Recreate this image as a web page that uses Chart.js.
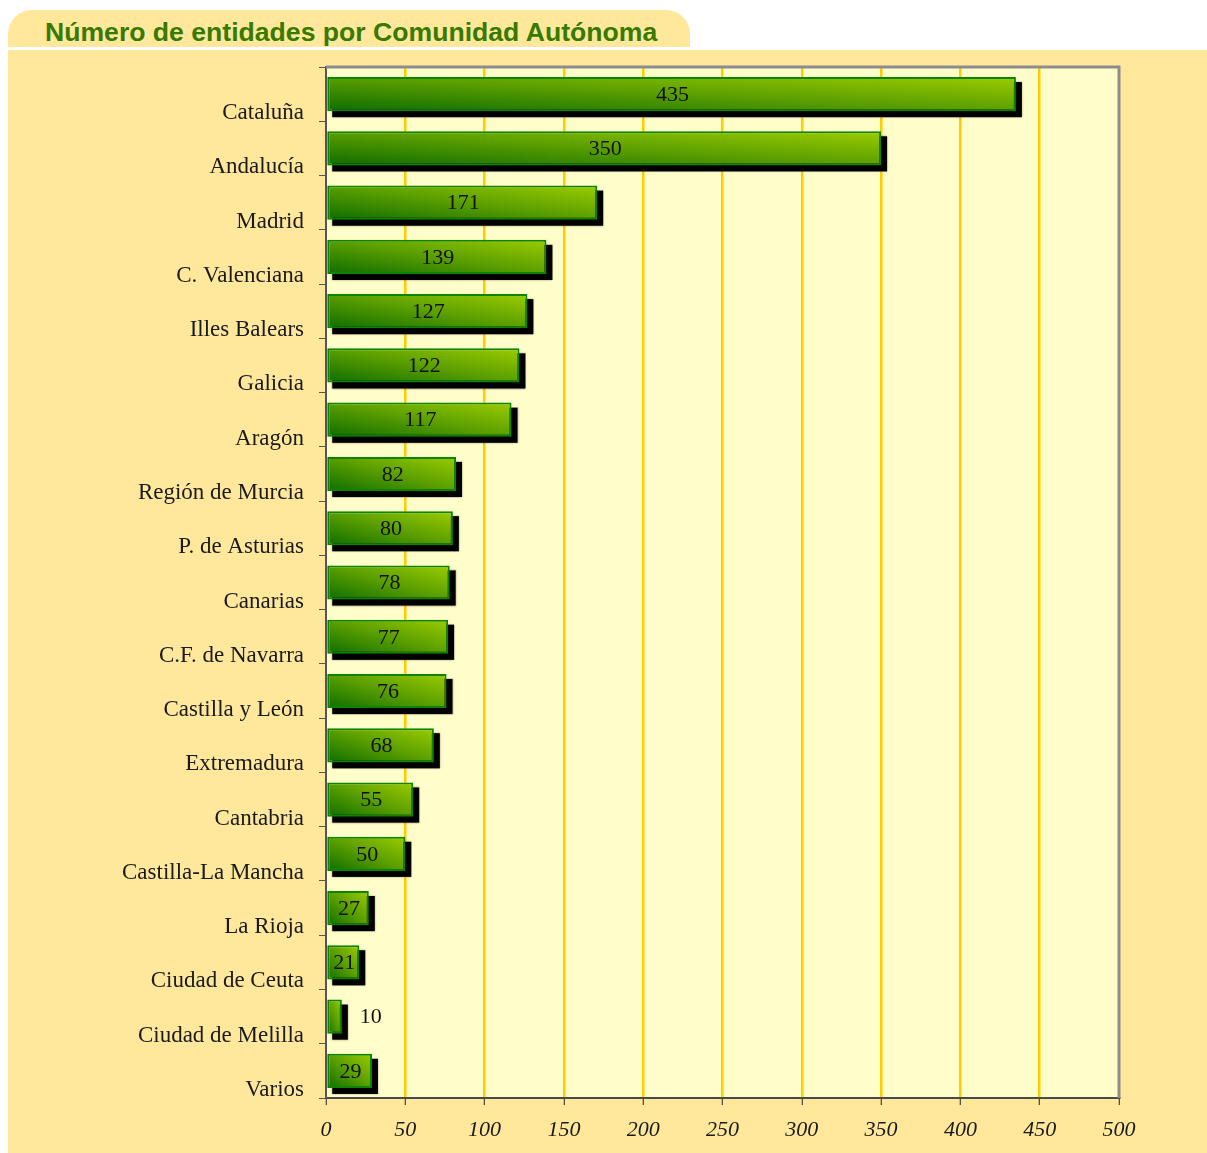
<!DOCTYPE html>
<html lang="es">
<head>
    <meta charset="UTF-8">
    <title>Número de entidades por Comunidad Autónoma</title>
    <script src="https://cdn.jsdelivr.net/npm/chart.js"></script>
    <style>
        body { margin: 0; background: #fff; width: 1207px; height: 1153px; position: relative; overflow: hidden; }
        .tab {
            position: absolute; left: 8px; top: 10px; width: 682px; height: 37px;
            background: #FFE89C; border-radius: 24px 24px 0 0;
            font-family: "Liberation Sans", Arial, sans-serif; font-weight: bold; font-size: 26.6px;
            color: #367A00; line-height: 45px; box-sizing: border-box; padding-left: 37px;
        }
        .panel { position: absolute; left: 8px; top: 50px; width: 1199px; height: 1103px; background: #FFE89C; }
        canvas { display: block; }
    </style>
</head>
<body>
    <div class="tab">Número de entidades por Comunidad Autónoma</div>
    <div class="panel"><canvas id="chart" width="1199" height="1103"></canvas></div>

    <script>
        const regions = ['Cataluña', 'Andalucía', 'Madrid', 'C. Valenciana', 'Illes Balears', 'Galicia', 'Aragón',
            'Región de Murcia', 'P. de Asturias', 'Canarias', 'C.F. de Navarra', 'Castilla y León', 'Extremadura',
            'Cantabria', 'Castilla-La Mancha', 'La Rioja', 'Ciudad de Ceuta', 'Ciudad de Melilla', 'Varios'];
        const entidades = [435, 350, 171, 139, 127, 122, 117, 82, 80, 78, 77, 76, 68, 55, 50, 27, 21, 10, 29];
        const xTicks = [0, 50, 100, 150, 200, 250, 300, 350, 400, 450, 500];

        const serif = '"Liberation Serif", "DejaVu Serif", serif';
        const BAR_PCT = 0.63;

        // diagonal gradient in the bar's own box (bottom-left dark -> top-right light)
        function barGradient(ctx) {
            const chart = ctx.chart;
            if (!chart.chartArea || ctx.type !== 'data') return '#5FA000';
            const xs = chart.scales.x, ys = chart.scales.y;
            const base = xs.getPixelForValue(0);
            const end = xs.getPixelForValue(entidades[ctx.dataIndex]);
            const h = ys.height / regions.length * BAR_PCT;
            const cy = ys.getPixelForValue(ctx.dataIndex);
            const w = Math.max(end - base, 1);
            const x0 = base, y0 = cy + h / 2;
            const k = 2 * w * h / (w * w + h * h);
            const g = chart.ctx.createLinearGradient(x0, y0, x0 + k * h, y0 - k * w);
            g.addColorStop(0, '#0E6C00');
            g.addColorStop(0.5, '#5A9E00');
            g.addColorStop(1, '#9CCC00');
            return g;
        }

        const decor = {
            id: 'decor',
            beforeDraw(chart) {
                const { ctx, chartArea: a } = chart;
                ctx.save();
                ctx.fillStyle = '#FFFDC9';
                ctx.fillRect(a.left, a.top, a.right - a.left, a.bottom - a.top);
                ctx.restore();
            },
            beforeDatasetsDraw(chart) {
                const { ctx, chartArea: a } = chart;
                ctx.save();
                // grey frame top and right
                ctx.strokeStyle = '#8C8C8C';
                ctx.lineWidth = 3;
                ctx.beginPath();
                ctx.moveTo(a.left, a.top);
                ctx.lineTo(a.right, a.top);
                ctx.lineTo(a.right, a.bottom);
                ctx.stroke();
                // bar shadows
                ctx.fillStyle = '#000';
                ctx.shadowColor = 'rgba(0,0,0,0.35)';
                ctx.shadowBlur = 2;
                chart.getDatasetMeta(0).data.forEach(el => {
                    const p = el.getProps(['x', 'y', 'base', 'height'], true);
                    ctx.fillRect(p.base + 5, p.y - p.height / 2 + 5, p.x - p.base + 1, p.height + 1);
                });
                ctx.restore();
            },
            afterDatasetsDraw(chart) {
                const { ctx } = chart;
                ctx.save();
                ctx.fillStyle = '#111';
                ctx.font = '22px ' + serif;
                ctx.textAlign = 'center';
                ctx.textBaseline = 'middle';
                chart.getDatasetMeta(0).data.forEach((el, i) => {
                    const p = el.getProps(['x', 'y', 'base'], true);
                    const w = p.x - p.base;
                    const tx = w < 26 ? p.x + 29 : (p.x + p.base) / 2 + 1;
                    ctx.fillText(String(entidades[i]), tx, p.y + 1);
                });
                ctx.restore();
            }
        };

        new Chart(document.getElementById('chart'), {
            type: 'bar',
            data: {
                labels: regions,
                datasets: [{
                    data: entidades,
                    backgroundColor: barGradient,
                    borderColor: '#0B8400',
                    borderWidth: 2,
                    borderSkipped: false,
                    barPercentage: BAR_PCT,
                    categoryPercentage: 1
                }]
            },
            options: {
                indexAxis: 'y',
                responsive: false,
                animation: false,
                layout: { padding: { top: 17, right: 88, left: 0, bottom: 0 } },
                plugins: { legend: { display: false }, tooltip: { enabled: false } },
                scales: {
                    x: {
                        min: 0, max: 500,
                        afterBuildTicks: s => { s.ticks = xTicks.map(v => ({ value: v })); },
                        afterFit: s => { s.height = 55; },
                        grid: {
                            color: c => (c.tick && (c.tick.value === 0 || c.tick.value === 500)) ? 'rgba(0,0,0,0)' : '#FFCC00',
                            lineWidth: 2.5,
                            tickColor: '#222',
                            tickLength: 7,
                            tickWidth: 1
                        },
                        border: { display: true, color: '#4A4A4A', width: 2 },
                        ticks: {
                            color: '#1a1a1a',
                            font: { family: serif, size: 22, style: 'italic' },
                            padding: 12,
                            maxRotation: 0
                        }
                    },
                    y: {
                        afterFit: s => { s.width = 318; s.paddingTop = 0; s.paddingBottom = 0; },
                        grid: {
                            drawOnChartArea: false,
                            color: '#555',
                            tickLength: 7,
                            offset: true
                        },
                        border: { display: true, color: '#555', width: 2 },
                        ticks: {
                            color: '#1a1a1a',
                            font: { family: serif, size: 23 },
                            padding: 15,
                            labelOffset: 19,
                            autoSkip: false
                        }
                    }
                }
            },
            plugins: [decor]
        });
    </script>
</body>
</html>
